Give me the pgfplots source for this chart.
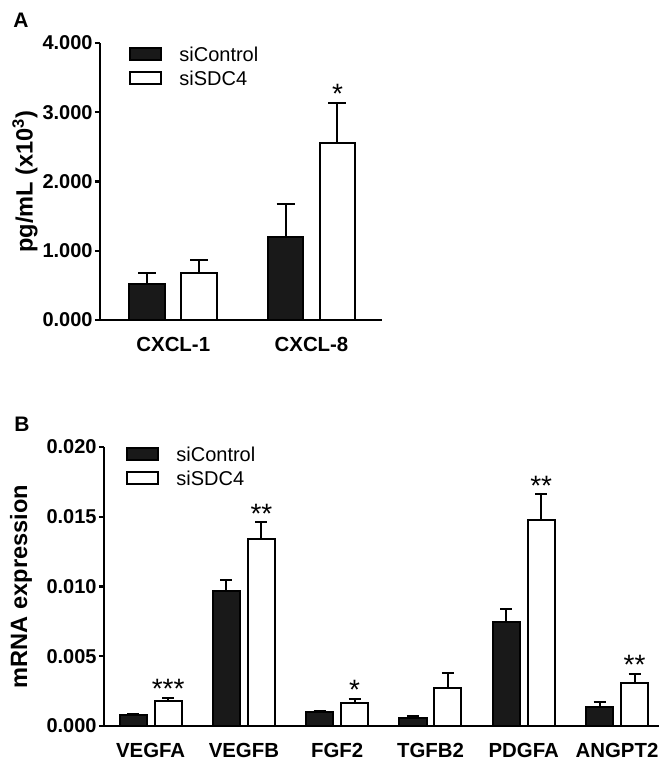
\documentclass[border=0pt]{standalone}
\usepackage{fontspec}
\setmainfont{Liberation Sans}
\usepackage{pgfplots}
\usepackage{pgfplotstable}
\pgfplotsset{compat=1.18}

% panel A: secreted chemokines, pg/mL (x10^3)
\pgfplotstableread{
x ctl ctlerr sdc sdcerr
0 0.52  0.16  0.675 0.195
1 1.195 0.485 2.55  0.58
}\cxcl
\pgfplotstableread{
x top star
1 3.13 *
}\starsA

% panel B: mRNA expression
\pgfplotstableread{
x ctl     ctlerr  sdc     sdcerr
0 0.00076 0.00010 0.00181 0.00020
1 0.00967 0.00080 0.01339 0.00120
2 0.00098 0.00010 0.00167 0.00030
3 0.00057 0.00013 0.00272 0.00105
4 0.00742 0.00100 0.01480 0.00180
5 0.00138 0.00034 0.00310 0.00060
}\mrna
\pgfplotstableread{
x top star
0 0.00201 ***
1 0.01459 **
2 0.00197 *
4 0.01660 **
5 0.00370 **
}\starsB

\pgfplotsset{
  panel/.style={
    scale only axis,
    axis lines*=left,
    axis line style={line width=1.3pt},
    x tick style={draw=none},
    y tick style={line width=1.2pt, black},
    tick align=outside,
    major tick length=2.5pt,
    ymin=0,
    scaled y ticks=false,
    yticklabel style={font=\bfseries\fontsize{10}{12}\selectfont, inner sep=1pt,
      /pgf/number format/.cd, fixed, fixed zerofill, precision=3, assume math mode=true},
    xticklabel style={font=\bfseries\fontsize{10.2}{12}\selectfont, inner sep=0pt, yshift=-6pt},
    ylabel style={font=\bfseries\fontsize{11.8}{14}\selectfont, anchor=center},
    legend style={draw=none, fill=none, inner sep=0pt, anchor=north west,
      font=\fontsize{10}{12}\selectfont, row sep=5pt,
      nodes={inner sep=0pt, text height=7pt, text depth=0pt},
      /tikz/every odd column/.append style={column sep=8.5pt}},
    legend cell align=left,
  },
  barbase/.style={ybar, bar shift=0pt, draw=black, line width=1pt,
    /pgfplots/error bars/y dir=plus, /pgfplots/error bars/y explicit,
    /pgfplots/error bars/error bar style={line width=1pt, black},
    /pgfplots/error bars/error mark options={rotate=90, line width=1pt, mark size=#1}},
  ctlbar/.style={barbase=#1, fill=black!90},
  sdcbar/.style={barbase=#1, fill=white},
  boxlegend/.style={legend image code/.code={
    \draw[##1, line width=1pt] (0pt,-3pt) rectangle (15.5pt,3pt);}},
  starnodes/.style={draw=none, mark=none, forget plot,
    nodes near coords, point meta=explicit symbolic,
    nodes near coords style={anchor=south, inner sep=0pt, yshift=-0.5pt,
      font=\fontsize{14}{16}\selectfont}},
}

\begin{document}
\begin{tikzpicture}
\useasboundingbox (-50pt,-219.5pt) rectangle (283pt,160pt);

\node[font=\bfseries\fontsize{10.5}{12}\selectfont] at (-39.5pt,150pt) {A};
\node[font=\bfseries\fontsize{10.5}{12}\selectfont] at (-39pt,-52pt) {B};

\begin{axis}[panel,
  at={(0pt,0pt)}, anchor=south west,
  width=141pt, height=138.5pt,
  xmin=-0.53, xmax=1.51,
  ymax=4,
  ytick={0,1,2,3,4},
  xtick={0,1},
  xticklabels={CXCL-1, CXCL-8},
  ylabel={pg/mL (x10$^{\mathbf{3}}$)},
  ylabel style={at={(axis description cs:-0.266,0.5)}},
  legend style={at={(axis description cs:0,1)}, xshift=14.5pt, yshift=-2pt},
]
\addplot[ctlbar=4.5pt, bar width=0.26, boxlegend]
  table[x expr=\thisrow{x}-0.188, y=ctl, y error=ctlerr] {\cxcl};
\addlegendentry{siControl}
\addplot[sdcbar=4.5pt, bar width=0.26, boxlegend]
  table[x expr=\thisrow{x}+0.188, y=sdc, y error=sdcerr] {\cxcl};
\addlegendentry{siSDC4}
\addplot[starnodes] table[x expr=\thisrow{x}+0.188, y=top, meta=star] {\starsA};
\end{axis}

\begin{axis}[panel,
  at={(2pt,-203pt)}, anchor=south west,
  width=277.5pt, height=139.5pt,
  xmin=-0.5, xmax=5.45,
  ymax=0.02,
  ytick={0,0.005,0.01,0.015,0.02},
  xtick={0,...,5},
  xticklabels={VEGFA, VEGFB, FGF2, TGFB2, PDGFA, ANGPT2},
  ylabel={mRNA expression},
  ylabel style={at={(axis description cs:-0.1495,0.5)}},
  legend style={at={(axis description cs:0,1)}, xshift=11pt, yshift=0pt},
]
\addplot[ctlbar=3pt, bar width=0.29, boxlegend]
  table[x expr=\thisrow{x}-0.1875, y=ctl, y error=ctlerr] {\mrna};
\addlegendentry{siControl}
\addplot[sdcbar=3pt, bar width=0.29, boxlegend]
  table[x expr=\thisrow{x}+0.1875, y=sdc, y error=sdcerr] {\mrna};
\addlegendentry{siSDC4}
\addplot[starnodes] table[x expr=\thisrow{x}+0.1875, y=top, meta=star] {\starsB};
\end{axis}
\end{tikzpicture}
\end{document}
